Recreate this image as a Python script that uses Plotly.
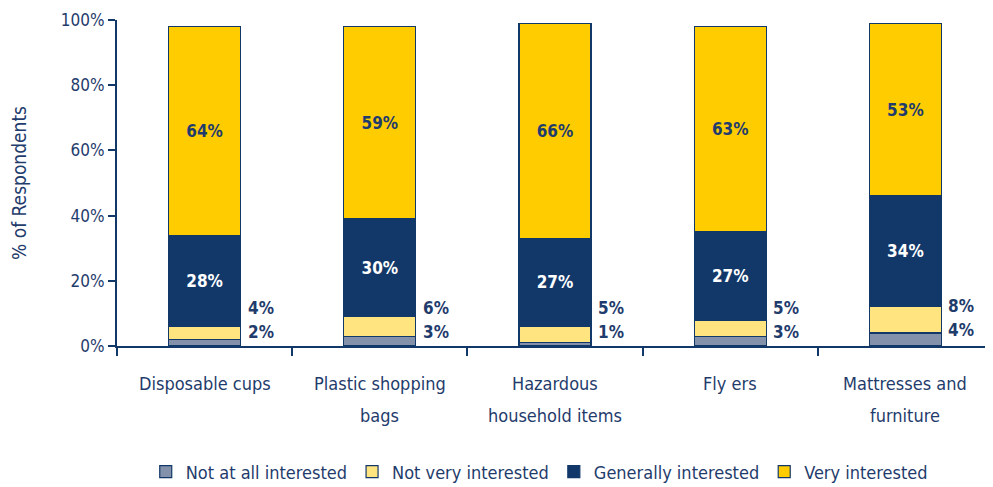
import plotly.graph_objects as go

categories = ["Disposable cups", "Plastic shopping<br>bags", "Hazardous<br>household items", "Fly ers", "Mattresses and<br>furniture"]
not_at_all = [2, 3, 1, 3, 4]
not_very = [4, 6, 5, 5, 8]
generally = [28, 30, 27, 27, 34]
very = [64, 59, 66, 63, 53]
series_names = ["Not at all interested", "Not very interested", "Generally interested", "Very interested"]
y_ticks = [0, 20, 40, 60, 80, 100]

NAVY = "#12386A"
TXT = "#1F3C6C"
FONT = "DejaVu Sans Condensed, Liberation Sans Narrow, sans-serif"

fig = go.Figure()
colors = ["#8391AA", "#FFE480", NAVY, "#FFCC00"]
data = [not_at_all, not_very, generally, very]
for i, (name, vals) in enumerate(zip(series_names, data)):
    show_text = i >= 2
    fig.add_trace(go.Bar(
        name=name, x=categories, y=vals,
        marker=dict(color=colors[i], line=dict(color=NAVY, width=1.2)),
        text=[f"{v}%" for v in vals] if show_text else None,
        textposition="inside" if show_text else "none",
        insidetextanchor="middle",
        textangle=0,
        textfont=dict(family=FONT, size=17, color="white" if i == 2 else TXT, weight="bold"),
        width=0.41,
    ))

for c, a, b in zip(categories, not_at_all, not_very):
    low = max(5, a + 1.5)
    fig.add_annotation(x=c, y=low, text=f"{a}%", showarrow=False, xanchor="left", xshift=41, yshift=-2,
                       font=dict(family=FONT, size=17, color=TXT, weight="bold"))
    fig.add_annotation(x=c, y=low + 6.8, text=f"{b}%", showarrow=False, xanchor="left", xshift=41, yshift=0,
                       font=dict(family=FONT, size=17, color=TXT, weight="bold"))

# category labels with wide line spacing
for c in categories:
    for k, line in enumerate(c.split("<br>")):
        fig.add_annotation(x=c, y=0, yref="paper", text=line, showarrow=False,
                           yanchor="middle", yshift=-(37 + 32 * k),
                           font=dict(family=FONT, size=18, color=TXT))

fig.update_layout(
    barmode="stack",
    width=985, height=479,
    margin=dict(l=109, r=0, t=12, b=141, autoexpand=False),
    plot_bgcolor="white", paper_bgcolor="white",
    font=dict(family=FONT, size=16, color=TXT),
    showlegend=True,
    legend=dict(orientation="h", x=0.482, xanchor="center", y=-0.386, yanchor="middle",
                font=dict(family=FONT, size=18, color=TXT), traceorder="normal",
                itemwidth=30),
)
fig.update_yaxes(range=[0, 100], tickvals=y_ticks, ticktext=[f"{v}%" for v in y_ticks],
                 showline=True, linecolor=NAVY, linewidth=2, ticks="outside", ticklen=7,
                 tickcolor=NAVY, tickwidth=2, showgrid=False, zeroline=False, automargin=False,
                 title=dict(text="% of Respondents", font=dict(family=FONT, size=19, color=TXT), standoff=30),
                 tickfont=dict(family=FONT, size=17, color=TXT))
fig.update_xaxes(showline=True, linecolor=NAVY, linewidth=2, ticks="outside", ticklen=8,
                 tickcolor=NAVY, tickwidth=2, tickson="boundaries", showgrid=False, automargin=False,
                 showticklabels=False)

fig.write_html("out.html")
